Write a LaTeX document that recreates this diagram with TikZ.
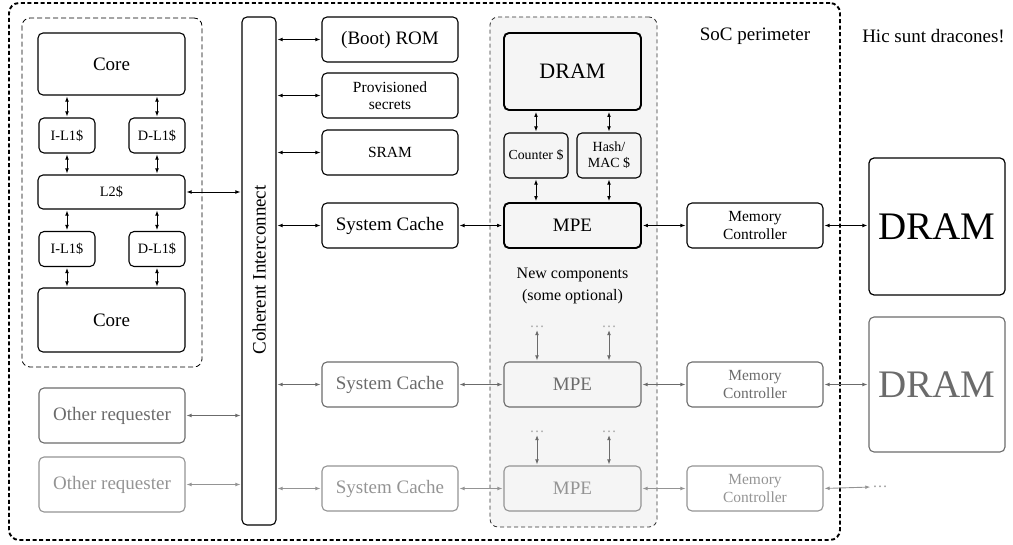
\documentclass[tikz,border=0pt]{standalone}
\usepackage{fontspec}
\setmainfont{Liberation Serif}
\usetikzlibrary{arrows.meta}
\definecolor{rowtwo}{gray}{0.42}
\definecolor{rowthree}{gray}{0.58}
\definecolor{dotgray}{gray}{0.65}
\definecolor{colfill}{gray}{0.96}
\tikzset{
  blk/.style={draw, line width=1.1pt, rounded corners=5pt, inner sep=0pt, align=center,
              font=\fontsize{19}{22}\selectfont},
  thickblk/.style={blk, line width=1.9pt},
  sm/.style={font=\fontsize{15.5}{17}\selectfont},
  xs/.style={font=\fontsize{14.3}{16}\selectfont},
  wide/.style={minimum width=136pt, minimum height=45pt},
  mid/.style={minimum width=137pt, minimum height=45pt},
  lone/.style={minimum width=56pt, minimum height=35pt},
  rowb/.style={draw=rowtwo, text=rowtwo},
  rowc/.style={draw=rowthree, text=rowthree},
  lnk/.style={line width=0.9pt, {Latex[length=5pt,width=3.8pt]}-{Latex[length=5pt,width=3.8pt]},
              shorten <=1pt, shorten >=1pt},
  lnkb/.style={lnk, draw=rowtwo},
  lnkc/.style={lnk, draw=rowthree},
  dotnode/.style={text=dotgray, inner sep=1pt, font=\fontsize{15}{16}\selectfont},
  plain/.style={inner sep=0pt, align=center, font=\fontsize{19}{22}\selectfont},
}
\begin{document}
\begin{tikzpicture}[x=1pt, y=-1pt]
\useasboundingbox (0,0) rectangle (1013,545);

% frames
\node[draw, line width=1.9pt, dash pattern=on 4pt off 2.6pt, rounded corners=10pt,
      minimum width=831pt, minimum height=537pt, inner sep=0pt] (soc) at (424.5,271.5) {};
\node[draw, line width=0.8pt, dash pattern=on 5pt off 3pt, rounded corners=8pt,
      minimum width=180pt, minimum height=349pt, inner sep=0pt] (cluster) at (112,192.5) {};
\node[draw=black!80, fill=colfill, line width=0.8pt, dash pattern=on 4pt off 3pt, rounded corners=8pt,
      minimum width=167pt, minimum height=510pt, inner sep=0pt] (newcol) at (573.5,272) {};

% labels
\node[plain] (soclbl) at (755,36) {SoC perimeter};
\node[plain] (hic) at (933.5,36) {Hic sunt dracones!};
\node[plain, font=\fontsize{16}{22}\selectfont] (newlbl) at (572.5,286) {New components\\(some optional)};

% core cluster
\node[blk, minimum width=147pt, minimum height=62pt] (coreA) at (111.5,64) {Core};
\node[blk, xs, lone] (il1A) at (67,135.5) {I-L1\$};
\node[blk, xs, lone] (dl1A) at (157,135.5) {D-L1\$};
\node[blk, xs, minimum width=147pt, minimum height=34pt] (l2) at (111.5,192) {L2\$};
\node[blk, xs, lone] (il1B) at (67,249) {I-L1\$};
\node[blk, xs, lone] (dl1B) at (157,249) {D-L1\$};
\node[blk, minimum width=147pt, minimum height=64pt] (coreB) at (111.5,320) {Core};

% other requesters
\node[blk, rowb, minimum width=146pt, minimum height=55pt] (reqA) at (112,415.5) {Other requester};
\node[blk, rowc, minimum width=146pt, minimum height=55pt] (reqB) at (112,484.5) {Other requester};

% interconnect
\node[blk, minimum width=34pt, minimum height=508pt] (ic) at (259,271) {};
\node[plain, rotate=90] (iclbl) at (259,270) {Coherent Interconnect};

% memories on the interconnect
\node[blk, wide] (rom) at (390,39.5) {(Boot) ROM};
\node[blk, wide, sm] (prov) at (390,95.5) {Provisioned\\secrets};
\node[blk, wide, sm] (sram) at (390,152.5) {SRAM};
\node[blk, wide] (scA) at (390,225.5) {System Cache};
\node[blk, wide, rowb] (scB) at (390,384.5) {System Cache};
\node[blk, wide, rowc] (scC) at (390,488.5) {System Cache};

% memory protection column
\node[thickblk, minimum width=137pt, minimum height=77pt, font=\fontsize{22}{24}\selectfont] (dramc) at (572.5,71.5) {DRAM};
\node[blk, minimum width=64pt, minimum height=45pt, font=\fontsize{13.8}{16}\selectfont] (ctr) at (536,155.5) {Counter \$};
\node[blk, minimum width=64pt, minimum height=45pt, font=\fontsize{14}{16}\selectfont] (mac) at (609,155.5) {Hash/\\MAC \$};
\node[thickblk, mid] (mpeA) at (572.5,225.5) {MPE};
\node[blk, mid, rowb] (mpeB) at (572.5,384.5) {MPE};
\node[blk, mid, rowc] (mpeC) at (572.5,488.5) {MPE};
\node[dotnode] (dB1) at (537,327) {\dots};
\node[dotnode] (dB2) at (609,327) {\dots};
\node[dotnode] (dC1) at (537,432) {\dots};
\node[dotnode] (dC2) at (609,432) {\dots};

% memory controllers
\node[blk, wide, font=\fontsize{15.5}{18}\selectfont] (mcA) at (755,225.5) {Memory\\Controller};
\node[blk, wide, rowb, font=\fontsize{15.5}{18}\selectfont] (mcB) at (755,384.5) {Memory\\Controller};
\node[blk, wide, rowc, font=\fontsize{15.5}{18}\selectfont] (mcC) at (755,488.5) {Memory\\Controller};

% off-chip DRAM
\node[blk, line width=1.2pt, minimum width=136pt, minimum height=137pt, font=\fontsize{39}{42}\selectfont] (dramA) at (937,226.5) {DRAM};
\node[blk, rowb, minimum width=136pt, minimum height=135pt, font=\fontsize{39}{42}\selectfont] (dramB) at (937,384.5) {DRAM};
\node[dotnode, text=rowthree] (dR) at (880,487) {\dots};

% core cluster links
\draw[lnk] (coreA.south -| il1A) -- (il1A.north);
\draw[lnk] (coreA.south -| dl1A) -- (dl1A.north);
\draw[lnk] (il1A.south) -- (l2.north -| il1A);
\draw[lnk] (dl1A.south) -- (l2.north -| dl1A);
\draw[lnk] (l2.south -| il1B) -- (il1B.north);
\draw[lnk] (l2.south -| dl1B) -- (dl1B.north);
\draw[lnk] (il1B.south) -- (coreB.north -| il1B);
\draw[lnk] (dl1B.south) -- (coreB.north -| dl1B);
\draw[lnk] (l2.east) -- (l2.east -| ic.west);
\draw[lnkb] (reqA.east) -- (reqA.east -| ic.west);
\draw[lnkc] (reqB.east) -- (reqB.east -| ic.west);

% interconnect links
\draw[lnk] (ic.east |- rom.west) -- (rom.west);
\draw[lnk] (ic.east |- prov.west) -- (prov.west);
\draw[lnk] (ic.east |- sram.west) -- (sram.west);
\draw[lnk] (ic.east |- scA.west) -- (scA.west);
\draw[lnkb] (ic.east |- scB.west) -- (scB.west);
\draw[lnkc] (ic.east |- scC.west) -- (scC.west);

% cache to MPE to controller to DRAM
\draw[lnk] (scA.east) -- (mpeA.west);
\draw[lnkb] (scB.east) -- (mpeB.west);
\draw[lnkc] (scC.east) -- (mpeC.west);
\draw[lnk] (mpeA.east) -- (mcA.west);
\draw[lnkb] (mpeB.east) -- (mcB.west);
\draw[lnkc] (mpeC.east) -- (mcC.west);
\draw[lnk] (mcA.east) -- (mcA.east -| dramA.west);
\draw[lnkb] (mcB.east) -- (dramB.west);
\draw[lnkc] (mcC.east) -- (dR.west);

% inside the protection column
\draw[lnk] (dramc.south -| ctr) -- (ctr.north);
\draw[lnk] (dramc.south -| mac) -- (mac.north);
\draw[lnk] (ctr.south) -- (mpeA.north -| ctr);
\draw[lnk] (mac.south) -- (mpeA.north -| mac);
\draw[lnkb] (dB1.south) -- (mpeB.north -| dB1);
\draw[lnkb] (dB2.south) -- (mpeB.north -| dB2);
\draw[lnkb] (dC1.south) -- (mpeC.north -| dC1);
\draw[lnkb] (dC2.south) -- (mpeC.north -| dC2);
\end{tikzpicture}
\end{document}
